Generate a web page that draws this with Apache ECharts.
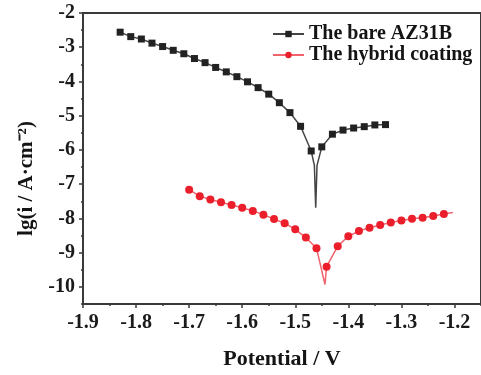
<!DOCTYPE html>
<html>
<head>
<meta charset="utf-8">
<script src="https://cdn.jsdelivr.net/npm/echarts@6/dist/echarts.min.js"></script>
<style>
  html, body { margin: 0; padding: 0; background: #fff; }
  #chart { width: 481px; height: 375px; }
</style>
</head>
<body>
<div id="chart"></div>
<script>
// bare AZ31B (marked points)
var bareX = [-1.83, -1.81, -1.79, -1.77, -1.75, -1.73, -1.71, -1.69, -1.67, -1.65, -1.63, -1.61, -1.59, -1.57, -1.55, -1.53, -1.51, -1.49, -1.47,
             -1.45, -1.43, -1.41, -1.39, -1.37, -1.35, -1.33];
var bareY = [-2.56, -2.69, -2.76, -2.88, -2.98, -3.09, -3.19, -3.33, -3.45, -3.59, -3.72, -3.86, -4.01, -4.18, -4.37, -4.62, -4.91, -5.31, -6.03,
             -5.91, -5.54, -5.42, -5.36, -5.32, -5.27, -5.26];
// spike of the bare curve (line only)
var bareDipX = [-1.464, -1.4615, -1.459];
var bareDipY = [-6.45, -7.69, -6.45];

// hybrid coating (marked points)
var hybridX = [-1.70, -1.68, -1.66, -1.64, -1.62, -1.60, -1.58, -1.56, -1.54, -1.52, -1.50, -1.48, -1.46,
               -1.441, -1.42, -1.40, -1.38, -1.36, -1.34, -1.32, -1.30, -1.28, -1.26, -1.24, -1.22];
var hybridY = [-7.16, -7.35, -7.45, -7.53, -7.61, -7.69, -7.78, -7.89, -8.02, -8.14, -8.32, -8.56, -8.87,
               -9.41, -8.81, -8.52, -8.37, -8.27, -8.19, -8.12, -8.06, -8.01, -7.98, -7.93, -7.87];
var hybridDipX = [-1.444, -1.203];
var hybridDipY = [-9.93, -7.83];

var xTicks = [-1.9, -1.8, -1.7, -1.6, -1.5, -1.4, -1.3, -1.2];
var yTicks = [-10, -9, -8, -7, -6, -5, -4, -3, -2];

function build(xs, ys, dx, dy) {
    var pts = [];
    for (var i = 0; i < xs.length; i++) pts.push({ value: [xs[i], ys[i]] });
    for (var j = 0; j < dx.length; j++) pts.push({ value: [dx[j], dy[j]], symbol: 'none' });
    pts.sort(function (a, b) { return a.value[0] - b.value[0]; });
    return pts;
}

var serif = 'Liberation Serif';
var axisColor = '#3a3a3a';

var chart = echarts.init(document.getElementById('chart'));
var option = {
    animation: false,
    textStyle: { fontFamily: serif },
    grid: {
        left: 83, right: -4, top: 13, bottom: 69,
        show: true, borderColor: axisColor, borderWidth: 2
    },
    legend: {
        orient: 'vertical',
        left: 267,
        top: 19,
        itemWidth: 31,
        itemHeight: 8,
        itemGap: 1,
        textStyle: { fontFamily: serif, fontWeight: 'bold', fontSize: 20, color: '#141414' },
        data: ['The bare AZ31B', 'The hybrid coating']
    },
    xAxis: [{
        type: 'value',
        min: -1.9, max: -1.15,
        name: 'Potential / V',
        nameLocation: 'middle',
        nameGap: 44,
        nameTextStyle: { fontFamily: serif, fontWeight: 'bold', fontSize: 22, color: '#141414' },
        axisLine: { lineStyle: { color: axisColor, width: 2 } },
        axisTick: { show: true, length: 4, customValues: xTicks, lineStyle: { color: axisColor, width: 1.5 } },
        axisLabel: {
            customValues: xTicks,
            margin: 9,
            fontFamily: serif, fontWeight: 'bold', fontSize: 20, color: '#1a1a1a',
            formatter: function (v) { return v.toFixed(1); }
        },
        splitLine: { show: false }
    }, {
        type: 'value',
        min: -1.9, max: -1.15, interval: 0.05,
        position: 'bottom',
        axisLine: { show: false },
        axisTick: { show: true, length: 2, lineStyle: { color: axisColor, width: 1.5 } },
        axisLabel: { show: false },
        splitLine: { show: false }
    }],
    yAxis: [{
        type: 'value',
        min: -10.5, max: -2,
        name: 'lg(i / A·cm⁻²)',
        nameLocation: 'middle',
        nameGap: 44,
        nameTextStyle: { fontFamily: serif, fontWeight: 'bold', fontSize: 21, color: '#141414', padding: [0, 40, 0, 0] },
        axisLine: { lineStyle: { color: axisColor, width: 2 } },
        axisTick: { show: true, length: 4, customValues: yTicks, lineStyle: { color: axisColor, width: 1.5 } },
        axisLabel: {
            customValues: yTicks,
            margin: 8,
            fontFamily: serif, fontWeight: 'bold', fontSize: 20, color: '#1a1a1a'
        },
        splitLine: { show: false }
    }, {
        type: 'value',
        min: -10.5, max: -2, interval: 0.5,
        position: 'left',
        axisLine: { show: false },
        axisTick: { show: true, length: 2, lineStyle: { color: axisColor, width: 1.5 } },
        axisLabel: { show: false },
        splitLine: { show: false }
    }],
    series: [{
        name: 'The bare AZ31B',
        type: 'line',
        symbol: 'rect',
        symbolSize: 7,
        itemStyle: { color: '#222222' },
        lineStyle: { color: '#444444', width: 1.5 },
        data: build(bareX, bareY, bareDipX, bareDipY)
    }, {
        name: 'The hybrid coating',
        type: 'line',
        symbol: 'circle',
        symbolSize: 8,
        itemStyle: { color: '#ea1f2b' },
        lineStyle: { color: '#f0636c', width: 1.5 },
        data: build(hybridX, hybridY, hybridDipX, hybridDipY)
    }]
};
chart.setOption(option);
</script>
</body>
</html>
